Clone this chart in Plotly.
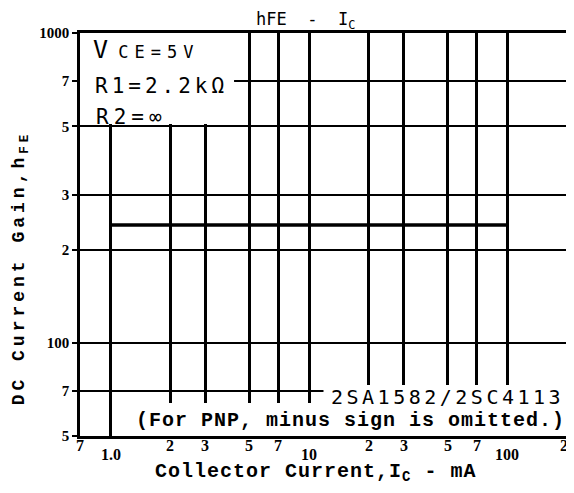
import plotly.graph_objects as go
import math

# ---- data ----
ic_ma = [1.0, 100.0]           # collector current range of the curve (mA)
hfe = [240, 240]               # DC current gain

x_grid_vals = [1, 2, 3, 5, 7, 10, 20, 30, 50, 70, 100]
y_grid_vals = [50, 70, 100, 200, 300, 500, 700, 1000]
y_tick_text = ["5", "7", "100", "2", "3", "5", "7", "1000"]

x_minor_vals = [0.7, 2, 3, 5, 7, 20, 30, 50, 70, 200]
x_minor_text = ["7", "2", "3", "5", "7", "2", "3", "5", "7", "2"]
x_decade_vals = [1, 10, 100]
x_decade_text = ["1.0", "10", "100"]

X_MIN, X_MAX = 0.7, 200
Y_MIN, Y_MAX = 50, 1000

# page body has an 8px margin; the figure is sized so the plot area
# lands at screen x 80..570, y 33..436
OFF = 8
W, H = 566, 485
L, R, T, B = 72, 4, 25, 57
PW = W - L - R
PH = H - T - B


def px(x):
    return (x - OFF - L) / PW


def py(y):
    return (H - B - (y - OFF)) / PH


def dx(p):
    return X_MIN * 10 ** ((p - OFF - L) / PW * math.log10(X_MAX / X_MIN))


def dy(p):
    return Y_MAX / 10 ** ((p - OFF - T) / PH * math.log10(Y_MAX / Y_MIN))


MONO_B = "Liberation Mono"
SANS = "DejaVu Sans Mono"
SERIF = "Liberation Serif"

fig = go.Figure()
fig.add_trace(go.Scatter(
    x=ic_ma, y=hfe, mode="lines",
    line=dict(color="black", width=3.5),
    showlegend=False, hoverinfo="skip",
))

# white masks behind labels (between gridlines and traces)
masks = [
    (X_MIN, dx(235), dy(124), Y_MAX),
    (dx(325), X_MAX, Y_MIN, dy(385)),
    (dx(135), X_MAX, Y_MIN, dy(403)),
]
for x0, x1, y0, y1 in masks:
    fig.add_shape(type="rect", xref="x", yref="y", x0=x0, x1=x1, y0=y0, y1=y1,
                  fillcolor="white", line=dict(width=0), layer="between")

ann = []
# title
ann.append(dict(text="hFE\u00a0\u00a0-\u00a0\u00a0I<sub>C</sub>", x=px(307), y=py(20),
                font=dict(family=SANS, size=17, color="black")))
# condition texts
ann.append(dict(text="<span style='font-size:25px'>V</span>\u2009<span style='letter-spacing:6px'>CE=5V</span>",
                x=px(147), y=py(50),
                font=dict(family=SANS, size=17, color="black")))
ann.append(dict(text="<span style='letter-spacing:4px'>R1=2.2k\u03a9</span>", x=px(162), y=py(86),
                font=dict(family=SANS, size=21, color="black")))
ann.append(dict(text="<span style='letter-spacing:5px'>R2=\u221e</span>", x=px(132), y=py(117),
                font=dict(family=SANS, size=21, color="black")))
# part number / note
ann.append(dict(text="<span style='letter-spacing:3.5px'>2SA1582/2SC4113</span>", x=px(450), y=py(397),
                font=dict(family=SANS, size=20, color="black")))
ann.append(dict(text="<b><span style='letter-spacing:1px'>(For PNP, minus sign is omitted.)</span></b>",
                x=px(352), y=py(420),
                font=dict(family=MONO_B, size=20, color="black")))
# axis titles
ann.append(dict(text="<b><span style='letter-spacing:1px'>Collector Current,I<sub>C</sub> - mA</span></b>",
                x=px(317), y=py(472),
                font=dict(family=MONO_B, size=20, color="black")))
ann.append(dict(text="<b><span style='letter-spacing:4px'>DC Current Gain,h<sub>FE</sub></span></b>",
                x=px(20), y=py(268), textangle=-90,
                font=dict(family=MONO_B, size=18, color="black")))
# x tick labels
for v, t in zip(x_minor_vals, x_minor_text):
    ann.append(dict(text="<b>" + t + "</b>", x=math.log10(v), xref="x", y=py(445),
                    xshift=-3 if v == X_MAX else 0,
                    font=dict(family=SERIF, size=16, color="black")))
for v, t in zip(x_decade_vals, x_decade_text):
    ann.append(dict(text="<b>" + t + "</b>", x=math.log10(v), xref="x", y=py(454),
                    font=dict(family=SERIF, size=16, color="black")))

for a in ann:
    a.setdefault("xref", "paper")
    a.setdefault("yref", "paper")
    a.setdefault("yanchor", "middle")
    a.setdefault("xanchor", "center")
    a["showarrow"] = False
    fig.add_annotation(**a)

fig.update_xaxes(
    type="log", range=[math.log10(X_MIN), math.log10(X_MAX)],
    tickvals=x_grid_vals, showticklabels=False, ticks="",
    showgrid=True, gridcolor="black", gridwidth=2.5,
    showline=True, linecolor="black", linewidth=2.5, mirror=True,
    zeroline=False,
)
fig.update_yaxes(
    type="log", range=[math.log10(Y_MIN), math.log10(Y_MAX)],
    tickvals=y_grid_vals, ticktext=["<b>" + t + "</b>" for t in y_tick_text],
    ticks="outside", ticklen=5, tickwidth=2, tickcolor="black",
    tickfont=dict(family=SERIF, size=15, color="black"),
    showgrid=True, gridcolor="black", gridwidth=2,
    showline=True, linecolor="black", linewidth=2.5, mirror=True,
    zeroline=False,
)
fig.update_layout(
    width=W, height=H, margin=dict(l=L, r=R, t=T, b=B),
    paper_bgcolor="white", plot_bgcolor="white",
    showlegend=False,
)
fig.write_html("out.html")
